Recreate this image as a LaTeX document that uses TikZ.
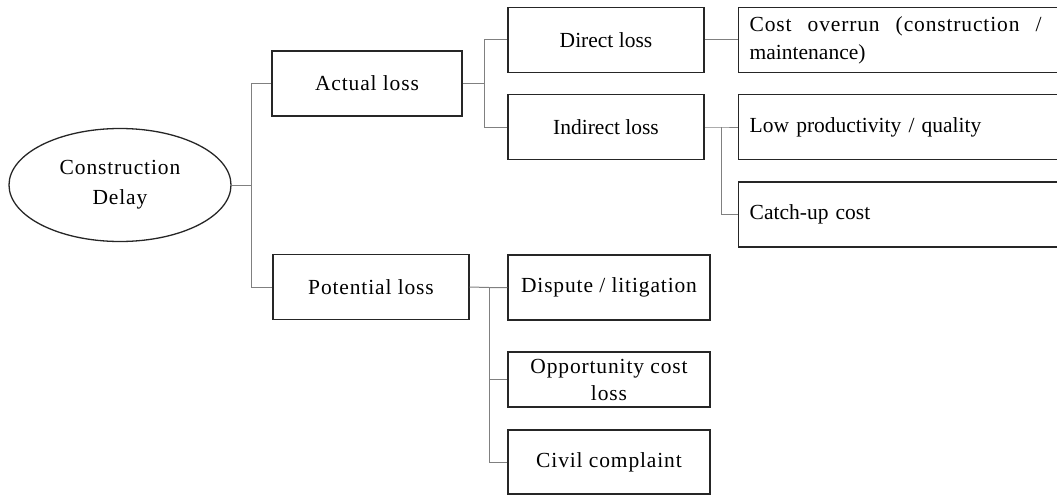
\documentclass[tikz,border=0pt]{standalone}
\usepackage{fontspec}
\setmainfont{Liberation Serif}
\newfontfamily\widefont[LetterSpace=4]{Liberation Serif}
\newcommand{\wgap}{\hspace{16pt}}
\usepackage{tikz}
\usetikzlibrary{shapes}
\usetikzlibrary{positioning}
\tikzstyle{Dstate}=[shape=ellipse,draw=black!85,line width=1.3pt,minimum width=222pt,minimum height=113pt,inner sep=0pt,align=center]
\tikzstyle{Mstate}=[shape=rectangle,draw=black!85,line width=1.4pt,minimum height=65pt,inner sep=0pt,align=center]
\tikzstyle{Wstate}=[Mstate,font=\widefont\fontsize{21.5}{27}\selectfont]
\tikzstyle{Rstate}=[Mstate,anchor=west,text width=318pt,inner xsep=11pt,align=left]
\tikzstyle{branch}=[draw=black!50,line width=1pt]

\begin{document}
\begin{tikzpicture}[x=1pt,y=-1pt,font=\fontsize{21.5}{28}\selectfont]

\clip (0,0) rectangle (1057,495);

\node[Dstate,font=\widefont\fontsize{21.5}{30}\selectfont] (DELAY) at (120,185){Construction\\Delay};

\node[Wstate,minimum width=190pt] (ACTUAL) at (367,83.5){Actual loss};
\node[Wstate,minimum width=196pt] (POTENTIAL) at (371,287){Potential loss};

\node[Mstate,minimum width=196pt] (DIRECT) at (606,40){Direct loss};
\node[Mstate,minimum width=196pt] (INDIRECT) at (606,127){Indirect loss};

\node[Rstate] (OVERRUN) at (738,40){{\widefont Cost\wgap overrun\wgap (construction\wgap /}\\maintenance)};
\node[Rstate] (LOWPROD) at (738,127){Low productivity / quality};
\node[Rstate] (CATCHUP) at (738,214.5){Catch-up cost};

\node[Wstate,minimum width=202pt] (DISPUTE) at (609,287.5){Dispute / litigation};
\node[Wstate,minimum width=202pt,minimum height=55pt] (OPPORT) at (609,379.5){Opportunity cost\\loss};
\node[Wstate,minimum width=202pt,minimum height=64pt] (CIVIL) at (609,462){Civil complaint};

\coordinate (J1) at (251,185);
\coordinate (J2) at (484,83.5);
\coordinate (J3) at (721,127);
\coordinate (J4) at (489,287.5);

% tree connectors
\draw[branch] (DELAY.east) -- (J1) |- (ACTUAL.west);
\draw[branch] (J1) |- (POTENTIAL.west);

\draw[branch] (ACTUAL.east) -- (J2) |- (DIRECT.west);
\draw[branch] (J2) |- (INDIRECT.west);
\draw[branch] (DIRECT.east) -- (OVERRUN.west);

\draw[branch] (INDIRECT.east) -- (J3) -- (LOWPROD.west);
\draw[branch] (J3) |- (CATCHUP.west);

\draw[branch] (POTENTIAL.east) -- (J4) -- (DISPUTE.west);
\draw[branch] (J4) |- (OPPORT.west);
\draw[branch] (J4) |- (CIVIL.west);

\end{tikzpicture}
\end{document}
